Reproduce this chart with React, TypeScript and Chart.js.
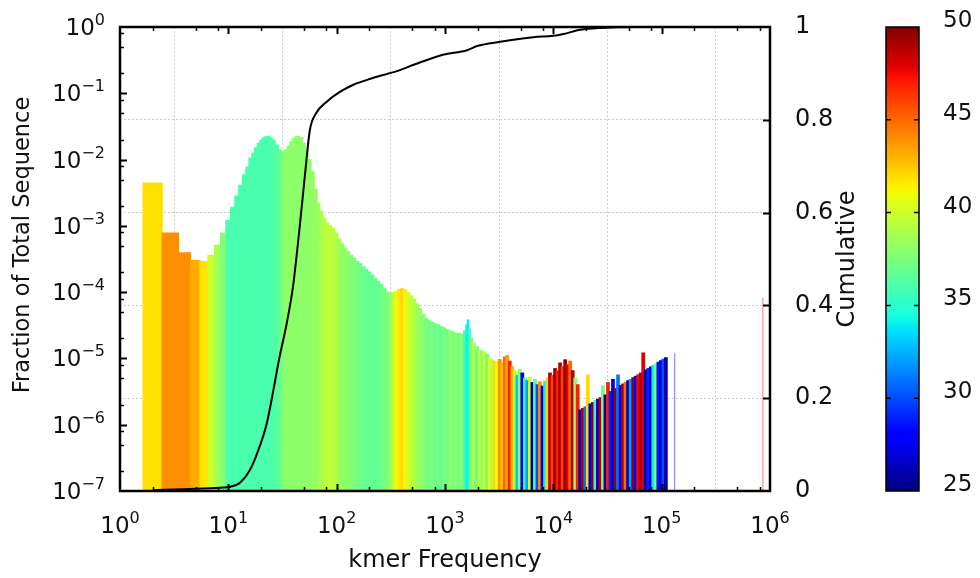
import React, { useEffect, useRef } from 'react';
import { Chart, registerables } from 'chart.js';

Chart.register(...registerables);

const FONT = '"DejaVu Sans", sans-serif';
const TEXT = '#111';

// ---- kmer histogram (continuous part) ----
const CONT_FREQ = [
  2, 3, 4, 5, 6, 7, 8, 9,
  10, 11, 12, 13, 14, 15, 16, 17, 18, 19, 20, 21, 22, 23, 24, 25, 26,
  28, 30, 32, 34, 36, 38, 40, 42, 44, 47,
  50, 53, 56, 60, 64, 68, 72, 77, 82, 87,
  93, 99, 106, 113, 120, 128, 136, 145, 155, 165,
  176, 188, 200, 213, 227, 242, 258, 275, 293, 312,
  333, 355, 378, 403, 430, 458, 488, 520, 555, 591,
  630, 672, 716, 763, 813, 867, 924, 985, 1050, 1120,
  1190, 1270, 1350, 1440, 1540, 1580, 1630, 1680, 1740, 1850,
  1970, 2090,
];
const CONT_FRACTION = [
  4.4e-3, 7.8e-4, 3.9e-4, 3.0e-4, 2.9e-4, 3.6e-4, 5.1e-4, 7.8e-4,
  1.2e-3, 1.9e-3, 2.8e-3, 4.1e-3, 5.9e-3, 7.7e-3, 1.05e-2, 1.25e-2, 1.5e-2, 1.75e-2, 1.95e-2, 2.1e-2, 2.2e-2, 2.25e-2, 2.2e-2, 2.1e-2, 1.95e-2,
  1.65e-2, 1.4e-2, 1.3e-2, 1.4e-2, 1.6e-2, 1.85e-2, 2.05e-2, 2.2e-2, 2.25e-2, 2.15e-2,
  1.75e-2, 1.35e-2, 1.0e-2, 6.5e-3, 3.6e-3, 2.2e-3, 1.65e-3, 1.3e-3, 1.1e-3, 1.0e-3,
  9.2e-4, 7.8e-4, 6.3e-4, 5.3e-4, 4.6e-4, 4.1e-4, 3.6e-4, 3.2e-4, 2.9e-4, 2.7e-4,
  2.4e-4, 2.2e-4, 2.0e-4, 1.8e-4, 1.6e-4, 1.45e-4, 1.3e-4, 1.15e-4, 1.0e-4, 9.6e-5,
  9.8e-5, 1.03e-4, 1.1e-4, 1.12e-4, 1.08e-4, 9.8e-5, 8.8e-5, 7.8e-5, 6.6e-5, 5.6e-5,
  4.6e-5, 4.0e-5, 3.7e-5, 3.5e-5, 3.3e-5, 3.2e-5, 3.0e-5, 2.9e-5, 2.7e-5, 2.6e-5,
  2.5e-5, 2.4e-5, 2.4e-5, 2.3e-5, 2.6e-5, 3.2e-5, 3.8e-5, 2.8e-5, 2.0e-5, 1.7e-5,
  1.5e-5, 1.35e-5,
];
const CONT_GC = [
  41.8, 44, 44, 43.2, 41.7, 40, 38.8, 37.8,
  36, 36, 35.9, 36, 36, 36.1, 36, 35.9, 36, 36, 36.1, 36, 36, 36, 36.1, 36, 36.1,
  36.3, 36.8, 37.6, 38, 38, 38.1, 38, 38, 38.1, 38,
  38, 38.2, 38, 38.3, 38.2, 38.5, 38.8, 39.2, 39.4, 39.6,
  39.5, 39.2, 38.6, 38.2, 38, 38, 37.8, 37.6, 37.4, 37.2,
  37, 36.8, 36.9, 36.7, 36.8, 36.9, 37, 37.2, 37.5, 38,
  39.5, 40.8, 41.6, 42, 41.3, 40.2, 39.6, 39.2, 38.6, 38.2,
  38, 37.5, 37, 37.6, 36.8, 37.4, 36.6, 37.5, 37, 38,
  37.2, 38.2, 37, 37.6, 35.5, 34.2, 34, 35.5, 37.5, 39,
  37, 39.5,
];

// ---- kmer histogram (noisy high-frequency part) ----
const NOISY_FREQ = [
  2200, 2320, 2450, 2580, 2720, 2870, 3030, 3200, 3370, 3560,
  3750, 3960, 4180, 4410, 4650, 4900, 5170, 5460, 5760, 6070,
  6410, 6760, 7130, 7520, 7940, 8370, 8830, 9320, 9830, 10370,
  10940, 11540, 12180, 12850, 13550, 14300, 15090, 15920, 16790, 17720,
  18690, 19720, 20800, 21950, 23150, 24430, 25770, 27190, 28680, 30260,
  31930, 33680, 35530, 37490, 39550, 41720, 44020, 46440, 48990, 51690,
  54530, 57530, 60690, 64030, 67550, 71270, 75190, 79320, 83680, 88290,
  93140, 98260, 103670, 109370,
];
const NOISY_FRACTION = [
  1.3e-5, 1.25e-5, 1.15e-5, 1.0e-5, 9.5e-6, 9.0e-6, 8.8e-6, 9.6e-6, 8.5e-6, 1.05e-5,
  1.1e-5, 9.0e-6, 7.5e-6, 6.5e-6, 5.5e-6, 6.8e-6, 6.0e-6, 5.0e-6, 4.6e-6, 5.2e-6,
  4.3e-6, 4.8e-6, 4.0e-6, 4.4e-6, 3.8e-6, 4.5e-6, 5.0e-6, 6.0e-6, 5.5e-6, 7.0e-6,
  6.5e-6, 8.5e-6, 7.5e-6, 9.5e-6, 8.0e-6, 9.0e-6, 6.5e-6, 5.0e-6, 4.0e-6, 1.66e-6,
  1.75e-6, 1.85e-6, 5.6e-6, 2.05e-6, 2.15e-6, 2.3e-6, 2.4e-6, 2.55e-6, 3.8e-6, 2.8e-6,
  4.3e-6, 3.15e-6, 4.8e-6, 3.5e-6, 5.6e-6, 3.9e-6, 4.1e-6, 4.35e-6, 4.6e-6, 4.8e-6,
  5.1e-6, 5.35e-6, 5.65e-6, 6.0e-6, 1.2e-5, 6.65e-6, 7.0e-6, 7.4e-6, 7.8e-6, 8.25e-6,
  8.7e-6, 9.2e-6, 9.7e-6, 1.02e-5,
];
const NOISY_GC = [
  38, 40, 37, 41, 39, 42, 41, 44, 42.5, 45,
  43.5, 47, 43, 39, 33, 38, 28, 35, 32, 40,
  26, 36, 30, 44, 27, 34, 42, 49, 46, 49.5,
  47, 49, 46, 49.5, 48, 45, 49, 38, 47, 26,
  49, 31, 42, 27, 49.5, 35, 26, 49, 37, 25.5,
  47, 29, 27, 49.5, 31, 27, 49, 45, 26, 32,
  49.5, 28, 47.5, 49, 48, 26, 29, 27, 34, 37,
  28.5, 27, 30, 26,
];

// ---- isolated lines ----
const ISO_FREQ = [132000, 860000];
const ISO_FRACTION = [1.2e-5, 8.2e-5];
const ISO_GC = [28, 48];

// ---- cumulative ----
const CUM_FREQ = [2, 6.8, 10.4, 12.8, 15.8, 18.7, 22.6, 25.8, 29.3, 34.5, 39.5, 45.6, 50.9, 56.6, 65, 80, 107, 141, 215, 383, 506, 681, 958, 1600, 1980, 3230, 6530, 10000, 12400, 17800, 27200, 55000, 100000];
const CUM_VALUE = [0.002, 0.006, 0.009, 0.018, 0.045, 0.085, 0.145, 0.212, 0.282, 0.36, 0.44, 0.57, 0.68, 0.778, 0.815, 0.838, 0.86, 0.875, 0.89, 0.907, 0.918, 0.929, 0.94, 0.95, 0.959, 0.968, 0.978, 0.981, 0.985, 0.994, 0.998, 1.0, 1.0];

// ---- axes ----
const X_TICKS = [1, 10, 100, 1000, 10000, 100000, 1000000];
const Y_TICKS = [1e-7, 1e-6, 1e-5, 1e-4, 1e-3, 1e-2, 1e-1, 1];
const Y1_TICKS = [0, 0.2, 0.4, 0.6, 0.8, 1];
const MINOR_MULT = [2, 5, 8];
const GC_MIN = 25;
const GC_MAX = 50;
const COLORBAR_TICKS = [25, 30, 35, 40, 45, 50];

const X_TITLE = 'kmer Frequency';
const Y_TITLE = 'Fraction of Total Sequence';
const Y1_TITLE = 'Cumulative';

const JET_R = [[0, 0], [0.35, 0], [0.66, 1], [0.89, 1], [1, 0.5]];
const JET_G = [[0, 0], [0.125, 0], [0.375, 1], [0.64, 1], [0.91, 0], [1, 0]];
const JET_B = [[0, 0.5], [0.11, 1], [0.34, 1], [0.65, 0], [1, 0]];

function lerpTable(tab: number[][], t: number) {
  for (let i = 1; i < tab.length; i++) {
    if (t <= tab[i][0]) {
      const [x0, y0] = tab[i - 1];
      const [x1, y1] = tab[i];
      return y0 + ((y1 - y0) * (t - x0)) / (x1 - x0);
    }
  }
  return tab[tab.length - 1][1];
}

function jet(gc: number, alpha = 1) {
  const t = Math.max(0, Math.min(1, (gc - GC_MIN) / (GC_MAX - GC_MIN)));
  const r = Math.round(255 * lerpTable(JET_R, t));
  const g = Math.round(255 * lerpTable(JET_G, t));
  const b = Math.round(255 * lerpTable(JET_B, t));
  return `rgba(${r},${g},${b},${alpha})`;
}

function expOf(v: number) {
  const e = Math.round(Math.log10(v));
  return e < 0 ? '\u2212' + String(-e) : String(e);
}

// draws "10" with a raised exponent; anchor: 'center' | 'right'
function drawPow(ctx: any, v: number, ax: number, baseline: number, anchor: string) {
  const base = '10';
  const ex = expOf(v);
  ctx.font = `23px ${FONT}`;
  const wb = ctx.measureText(base).width;
  ctx.font = `16px ${FONT}`;
  const we = ctx.measureText(ex).width;
  const total = wb + we;
  const x0 = anchor === 'center' ? ax - total / 2 : ax - total;
  ctx.textAlign = 'left';
  ctx.textBaseline = 'alphabetic';
  ctx.font = `23px ${FONT}`;
  ctx.fillText(base, x0, baseline);
  ctx.font = `16px ${FONT}`;
  ctx.fillText(ex, x0 + wb, baseline - 10);
}

const framePlugin = {
  id: 'frame',
  afterDatasetsDraw(chart: any) {
    const { ctx, chartArea } = chart;
    const { left, right, top, bottom } = chartArea;
    const xs = chart.scales.x;
    const ys = chart.scales.y;
    const y1 = chart.scales.y1;
    ctx.save();
    ctx.strokeStyle = '#000';
    // x ticks (bottom & top)
    for (let d = 0; d <= 6; d++) {
      for (const m of [1, ...MINOR_MULT]) {
        const v = m * Math.pow(10, d);
        if (v <= xs.min || v >= xs.max) continue;
        const px = Math.round(xs.getPixelForValue(v)) + 0.5;
        const len = m === 1 ? 7 : 4;
        ctx.lineWidth = m === 1 ? 2 : 1.5;
        ctx.beginPath();
        ctx.moveTo(px, bottom);
        ctx.lineTo(px, bottom - len);
        ctx.moveTo(px, top);
        ctx.lineTo(px, top + len);
        ctx.stroke();
      }
    }
    // y ticks (left)
    for (let d = -7; d <= 0; d++) {
      for (const m of [1, ...MINOR_MULT]) {
        const v = m * Math.pow(10, d);
        if (v <= ys.min || v >= ys.max) continue;
        const py = Math.round(ys.getPixelForValue(v)) + 0.5;
        const len = m === 1 ? 7 : 4;
        ctx.lineWidth = m === 1 ? 2 : 1.5;
        ctx.beginPath();
        ctx.moveTo(left, py);
        ctx.lineTo(left + len, py);
        ctx.stroke();
      }
    }
    // y1 ticks (right)
    for (const v of Y1_TICKS) {
      if (v <= y1.min || v >= y1.max) continue;
      const py = Math.round(y1.getPixelForValue(v)) + 0.5;
      ctx.lineWidth = 2;
      ctx.beginPath();
      ctx.moveTo(right, py);
      ctx.lineTo(right - 7, py);
      ctx.stroke();
    }
    // box
    ctx.lineWidth = 2.5;
    ctx.strokeRect(left, top, right - left, bottom - top);

    // tick labels
    ctx.fillStyle = TEXT;
    for (const v of X_TICKS) {
      drawPow(ctx, v, xs.getPixelForValue(v), bottom + 42, 'center');
    }
    for (const v of Y_TICKS) {
      drawPow(ctx, v, left - 15, ys.getPixelForValue(v) + 8, 'right');
    }
    ctx.font = `24px ${FONT}`;
    ctx.textAlign = 'left';
    ctx.textBaseline = 'middle';
    for (const v of Y1_TICKS) {
      ctx.fillText(String(Math.round(v * 10) / 10), right + 25, y1.getPixelForValue(v));
    }

    // titles
    ctx.textAlign = 'center';
    ctx.textBaseline = 'middle';
    ctx.font = `24px ${FONT}`;
    ctx.fillText(X_TITLE, (left + right) / 2, 561);
    ctx.save();
    ctx.font = `22.5px ${FONT}`;
    ctx.translate(23, 245);
    ctx.rotate(-Math.PI / 2);
    ctx.fillText(Y_TITLE, 0, 0);
    ctx.restore();
    ctx.save();
    ctx.font = `24px ${FONT}`;
    ctx.translate(848, 259);
    ctx.rotate(-Math.PI / 2);
    ctx.fillText(Y1_TITLE, 0, 0);
    ctx.restore();

    // colorbar
    const cbX = right + 116;
    const cbW = 33;
    const grad = ctx.createLinearGradient(0, bottom, 0, top);
    for (let i = 0; i <= 100; i++) {
      const gc = GC_MIN + ((GC_MAX - GC_MIN) * i) / 100;
      grad.addColorStop(i / 100, jet(gc));
    }
    ctx.fillStyle = grad;
    ctx.fillRect(cbX, top, cbW, bottom - top);
    ctx.lineWidth = 1.5;
    ctx.strokeStyle = '#000';
    ctx.strokeRect(cbX, top, cbW, bottom - top);
    ctx.fillStyle = TEXT;
    ctx.font = `23px ${FONT}`;
    ctx.textAlign = 'left';
    ctx.textBaseline = 'middle';
    for (const v of COLORBAR_TICKS) {
      const py = bottom - ((v - GC_MIN) / (GC_MAX - GC_MIN)) * (bottom - top);
      if (v > GC_MIN && v < GC_MAX) {
        ctx.lineWidth = 1.5;
        ctx.beginPath();
        ctx.moveTo(cbX, py);
        ctx.lineTo(cbX + 5, py);
        ctx.moveTo(cbX + cbW - 5, py);
        ctx.lineTo(cbX + cbW, py);
        ctx.stroke();
      }
      ctx.fillText(String(v), cbX + cbW + 24, py - 6);
    }
    ctx.restore();
  },
};

export default function App() {
  const ref = useRef<HTMLCanvasElement>(null);
  useEffect(() => {
    const histFreq = [...CONT_FREQ, ...NOISY_FREQ];
    const histFrac = [...CONT_FRACTION, ...NOISY_FRACTION];
    const histGC = [...CONT_GC, ...NOISY_GC];
    const noPad = (s: any) => {
      s.paddingTop = 0;
      s.paddingBottom = 0;
      s.paddingLeft = 0;
      s.paddingRight = 0;
    };
    const chart = new Chart(ref.current as HTMLCanvasElement, {
      type: 'bar',
      data: {
        datasets: [
          {
            type: 'line',
            data: CUM_FREQ.map((f, i) => ({ x: f, y: CUM_VALUE[i] })),
            yAxisID: 'y1',
            borderColor: '#000',
            borderWidth: 2,
            pointRadius: 0,
            cubicInterpolationMode: 'monotone',
            order: 0,
          } as any,
          {
            type: 'bar',
            data: ISO_FREQ.map((f, i) => ({ x: f, y: ISO_FRACTION[i] })),
            yAxisID: 'y',
            backgroundColor: ISO_GC.map((g) => jet(g, 0.6)),
            borderWidth: 0,
            grouped: false,
            maxBarThickness: 1.5,
            order: 1,
          } as any,
          {
            type: 'bar',
            data: histFreq.map((f, i) => ({ x: f, y: histFrac[i] })),
            yAxisID: 'y',
            backgroundColor: histGC.map((g) => jet(g)),
            borderWidth: 0,
            barThickness: 'flex',
            categoryPercentage: 1,
            barPercentage: 1,
            inflateAmount: 0.6,
            order: 2,
          } as any,
        ],
      },
      options: {
        animation: false,
        responsive: true,
        maintainAspectRatio: false,
        layout: { padding: { top: 27, right: 120, left: 0, bottom: 0 } },
        plugins: { legend: { display: false }, tooltip: { enabled: false } },
        scales: {
          x: {
            type: 'logarithmic',
            min: 1,
            max: 1e6,
            offset: false,
            position: 'bottom',
            grid: { color: '#cccccc', lineWidth: 1, drawTicks: false },
            border: { display: false, dash: [2, 2] },
            afterBuildTicks: (s: any) => {
              s.ticks = X_TICKS.map((v) => ({ value: v }));
            },
            afterFit: (s: any) => {
              s.height = 87;
              noPad(s);
            },
            ticks: { display: false, autoSkip: false, maxRotation: 0 },
          },
          y: {
            type: 'logarithmic',
            min: 1e-7,
            max: 1,
            position: 'left',
            grid: { display: false, drawTicks: false },
            border: { display: false },
            afterBuildTicks: (s: any) => {
              s.ticks = Y_TICKS.map((v) => ({ value: v }));
            },
            afterFit: (s: any) => {
              s.width = 120;
              noPad(s);
            },
            ticks: { display: false, autoSkip: false },
          },
          y1: {
            type: 'linear',
            min: 0,
            max: 1,
            position: 'right',
            grid: { color: '#cccccc', lineWidth: 1, drawTicks: false },
            border: { display: false, dash: [2, 2] },
            afterBuildTicks: (s: any) => {
              s.ticks = Y1_TICKS.map((v) => ({ value: v }));
            },
            afterFit: (s: any) => {
              s.width = 90;
              noPad(s);
            },
            ticks: { display: false, autoSkip: false },
          },
        },
      } as any,
      plugins: [framePlugin],
    });
    return () => chart.destroy();
  }, []);
  return (
    <div style={{ position: 'fixed', left: 0, top: 0, width: 980, height: 578, background: '#fff' }}>
      <canvas ref={ref} />
    </div>
  );
}
